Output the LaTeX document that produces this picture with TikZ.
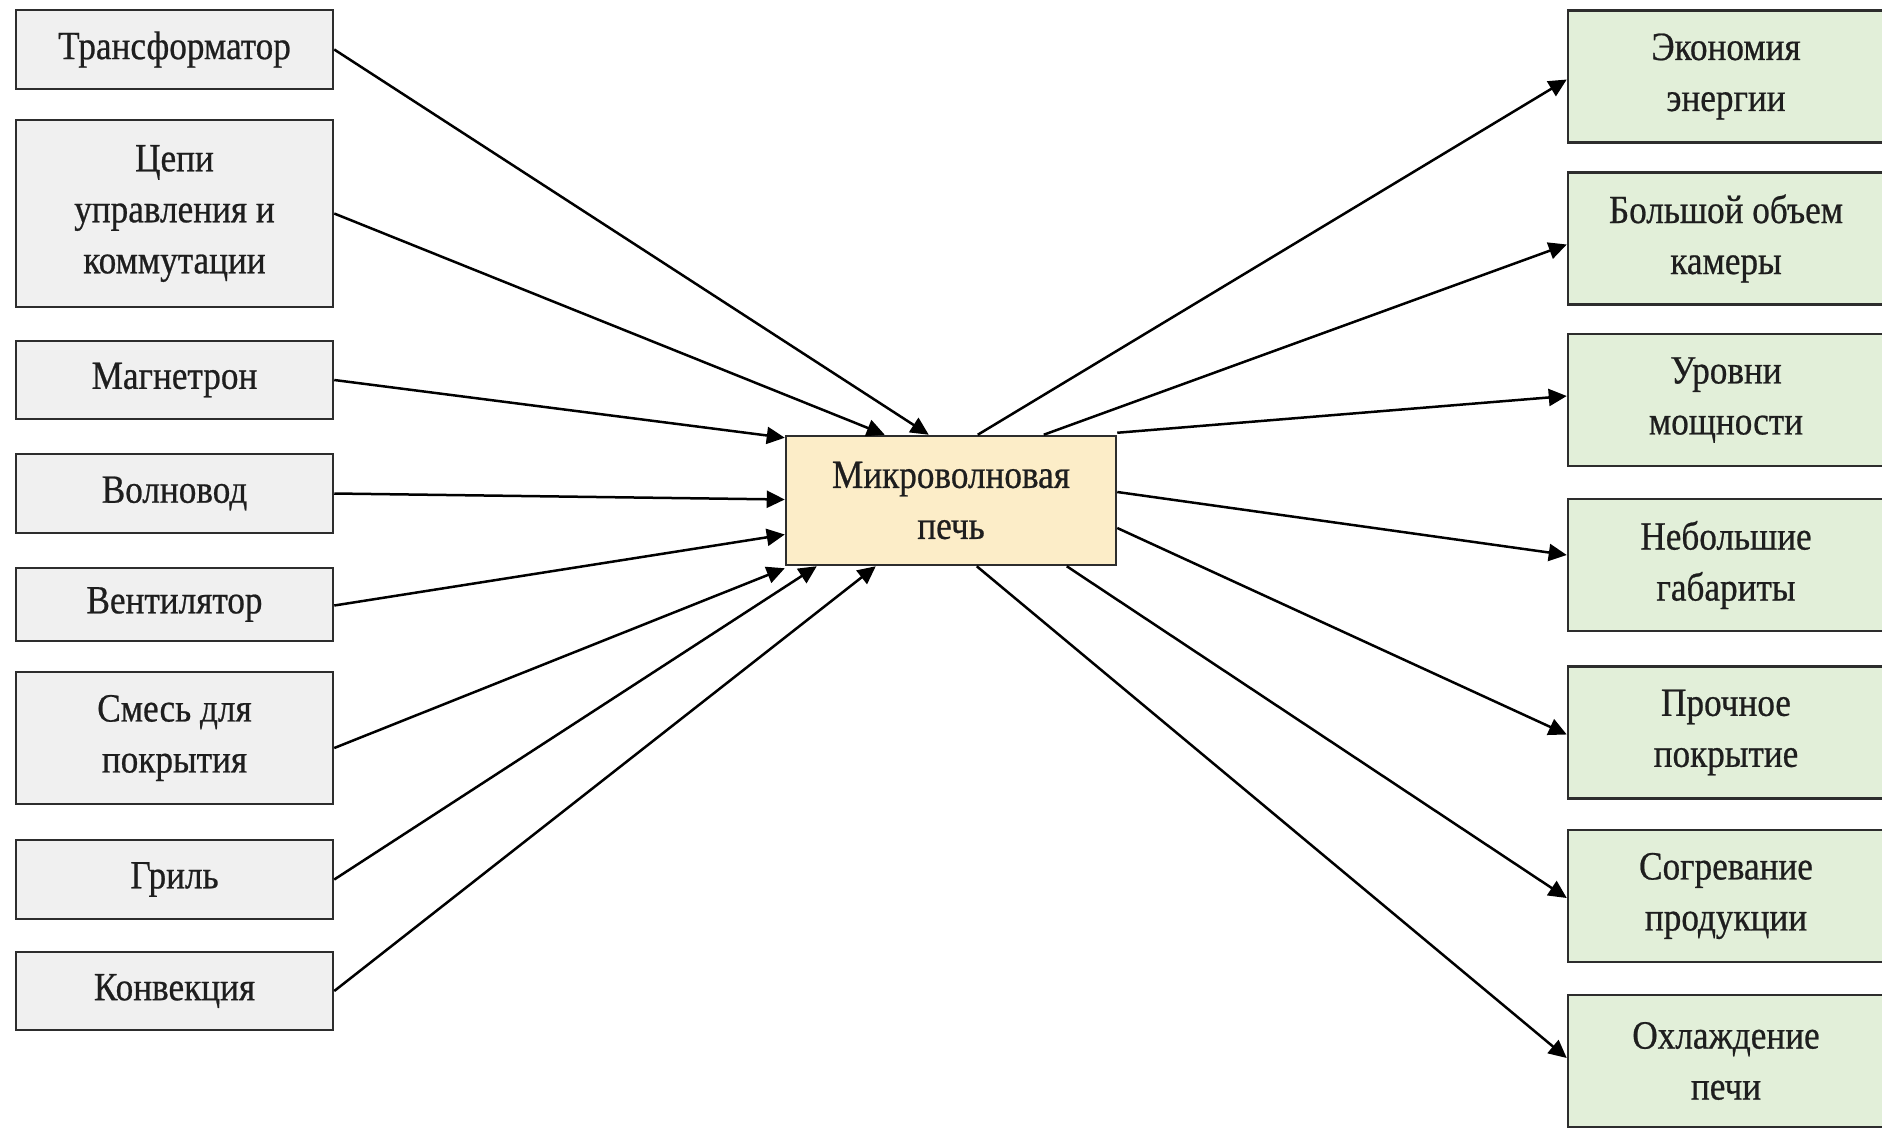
\documentclass[tikz,border=0pt]{standalone}
\usepackage{fontspec}
\setmainfont{Liberation Serif}[FakeStretch=0.88,FakeBold=0.6]
\usetikzlibrary{arrows.meta}
\definecolor{lfill}{RGB}{240,240,240}
\definecolor{cfill}{RGB}{252,237,200}
\definecolor{rfill}{RGB}{226,239,217}
\definecolor{bordc}{RGB}{45,45,45}
\definecolor{txtc}{RGB}{30,30,30}
\begin{document}
\begin{tikzpicture}[x=1pt,y=-1pt,
  box/.style={draw=bordc, line width=2.5pt, align=center, inner sep=0pt,
              font=\fontsize{40}{51}\selectfont, text=txtc},
  lbox/.style={box, fill=lfill, minimum width=317pt},
  rbox/.style={box, fill=rfill, minimum width=316pt, minimum height=132pt},
  cbox/.style={box, fill=cfill, minimum width=330pt, minimum height=129pt},
  arr/.style={-{Triangle[length=18pt,width=17pt]}, line width=2.5pt, draw=black}]
\useasboundingbox (0,0) rectangle (1882,1130);
\fill[white] (0,0) rectangle (1882,1130);
\clip (0,0) rectangle (1882,1130);

% left boxes
\node[lbox, minimum height=79pt]  (t)  at (174.5,49.5)  {\raisebox{-4pt}{Трансформатор}};
\node[lbox, minimum height=187pt] (cz) at (174.5,213.5) {Цепи\\управления и\\коммутации};
\node[lbox, minimum height=78pt]  (m)  at (174.5,380)   {\raisebox{-3pt}{Магнетрон}};
\node[lbox, minimum height=79pt]  (w)  at (174.5,493.5) {\raisebox{-3pt}{Волновод}};
\node[lbox, minimum height=73pt]  (v)  at (174.5,604.5) {\raisebox{-8pt}{Вентилятор}};
\node[lbox, minimum height=132pt] (s)  at (174.5,738)   {Смесь для\\покрытия};
\node[lbox, minimum height=79pt]  (g)  at (174.5,879.5) {\raisebox{-3pt}{Гриль}};
\node[lbox, minimum height=78pt]  (k)  at (174.5,991)   {\raisebox{-3pt}{Конвекция}};

% centre
\node[cbox] (c) at (951,500.5) {Микроволновая\\печь};

% right boxes
\node[rbox] (r1) at (1726,76.5)  {Экономия\\энергии};
\node[rbox] (r2) at (1726,238.5) {Большой объем\\камеры};
\node[rbox] (r3) at (1726,400)   {Уровни\\мощности};
\node[rbox] (r4) at (1726,565)   {Небольшие\\габариты};
\node[rbox] (r5) at (1726,732.5) {Прочное\\покрытие};
\node[rbox] (r6) at (1726,896)   {Согревание\\продукции};
\node[rbox] (r7) at (1726,1061)  {Охлаждение\\печи};

% incoming arrows
\draw[arr] (t.east)  -- ([xshift=144pt]c.north west);
\draw[arr] (cz.east) -- ([xshift=100pt]c.north west);
\draw[arr] (m.east)  -- ([yshift=-3pt]c.north west);
\draw[arr] (w.east)  -- ([yshift=1pt]c.west);
\draw[arr] ([yshift=-1pt]v.east)  -- ([yshift=-34pt]c.west);
\draw[arr] ([yshift=-10pt]s.east)  -- ([yshift=-2pt]c.south west);
\draw[arr] (g.east)  -- ([xshift=32pt]c.south west);
\draw[arr] (k.east)  -- ([xshift=91pt]c.south west);

% outgoing arrows
\draw[arr] ([xshift=193pt]c.north west) -- ([yshift=-3pt]r1.west);
\draw[arr] ([xshift=259pt]c.north west) -- ([yshift=-6pt]r2.west);
\draw[arr] ([yshift=2pt]c.north east)   -- ([yshift=4pt]r3.west);
\draw[arr] ([yshift=8.5pt]c.east)       -- ([yshift=10pt]r4.west);
\draw[arr] ([yshift=-27.5pt]c.east)     -- ([yshift=-2pt]r5.west);
\draw[arr] ([xshift=282pt]c.south west) -- ([yshift=-2pt]r6.west);
\draw[arr] ([xshift=192pt]c.south west) -- ([yshift=3pt]r7.west);
\end{tikzpicture}
\end{document}
